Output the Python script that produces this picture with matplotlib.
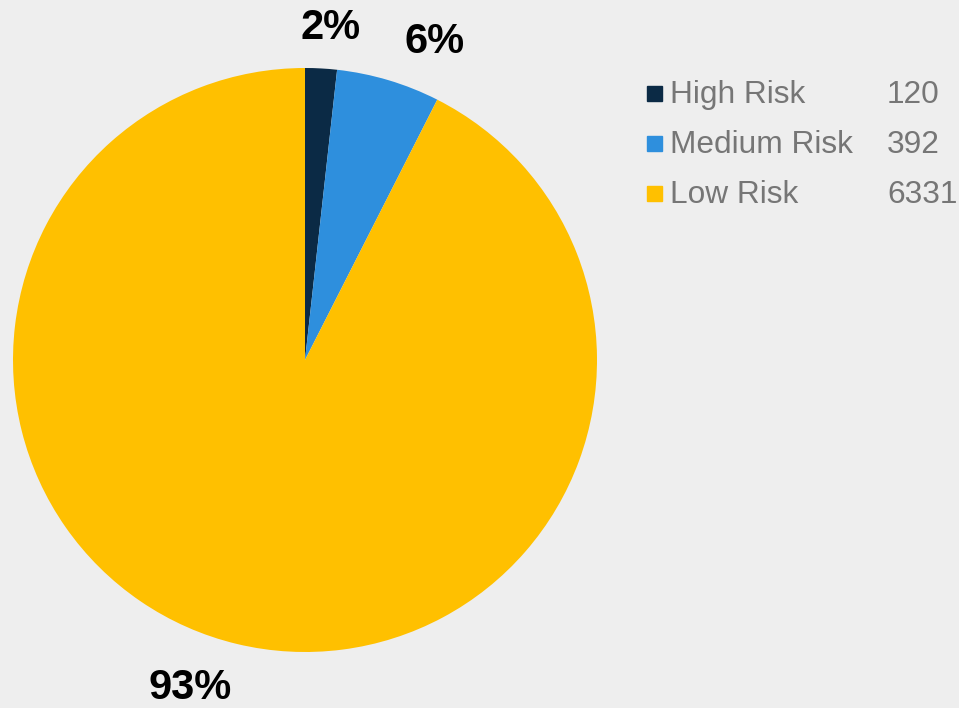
import matplotlib.pyplot as plt
from matplotlib.patches import Rectangle

categories = ['High Risk', 'Medium Risk', 'Low Risk']
counts = [120, 392, 6331]
colors = ['#0B2A45', '#2E8FDD', '#FFC000']
# label positions (Excel style best-fit), in pie radius units
label_pos = [(0.086, 1.137), (0.445, 1.089), (-0.394, -1.123)]

bg = '#EEEEEE'
fig = plt.figure(figsize=(9.59, 7.08), dpi=100, facecolor=bg)
cx, cy, r = 305, 360, 292
W, H = 959, 708
ax = fig.add_axes([(cx - r) / W, (H - cy - r) / H, 2 * r / W, 2 * r / H])
ax.set_facecolor(bg)

total = sum(counts)
wedges, _ = ax.pie(counts, colors=colors, startangle=90, counterclock=False,
                   radius=1, wedgeprops=dict(linewidth=0))
ax.set_xlim(-1, 1)
ax.set_ylim(-1, 1)
ax.set_aspect('equal')

narrow = ['Liberation Sans Narrow', 'Liberation Sans', 'DejaVu Sans']
for (x, y), c in zip(label_pos, counts):
    ax.text(x, y, f'{round(100 * c / total)}%', ha='center', va='center',
            fontsize=30, fontweight='bold', family=narrow, color='black',
            clip_on=False)

# legend with counts
rows_y = [95, 145, 195]
for name, c, col, y in zip(categories, counts, colors, rows_y):
    fig.patches.append(Rectangle(((647) / W, 1 - (y + 6) / H), 15 / W, 15 / H,
                                 transform=fig.transFigure, color=col))
    fig.text(670 / W, 1 - y / H, name, ha='left', va='center', fontsize=22.8,
             family=['Liberation Sans', 'DejaVu Sans'], color='#767676')
    fig.text(887 / W, 1 - y / H, str(c), ha='left', va='center', fontsize=22.8,
             family=['Liberation Sans', 'DejaVu Sans'], color='#767676')

fig.savefig('out.png', dpi=100, facecolor=bg)
